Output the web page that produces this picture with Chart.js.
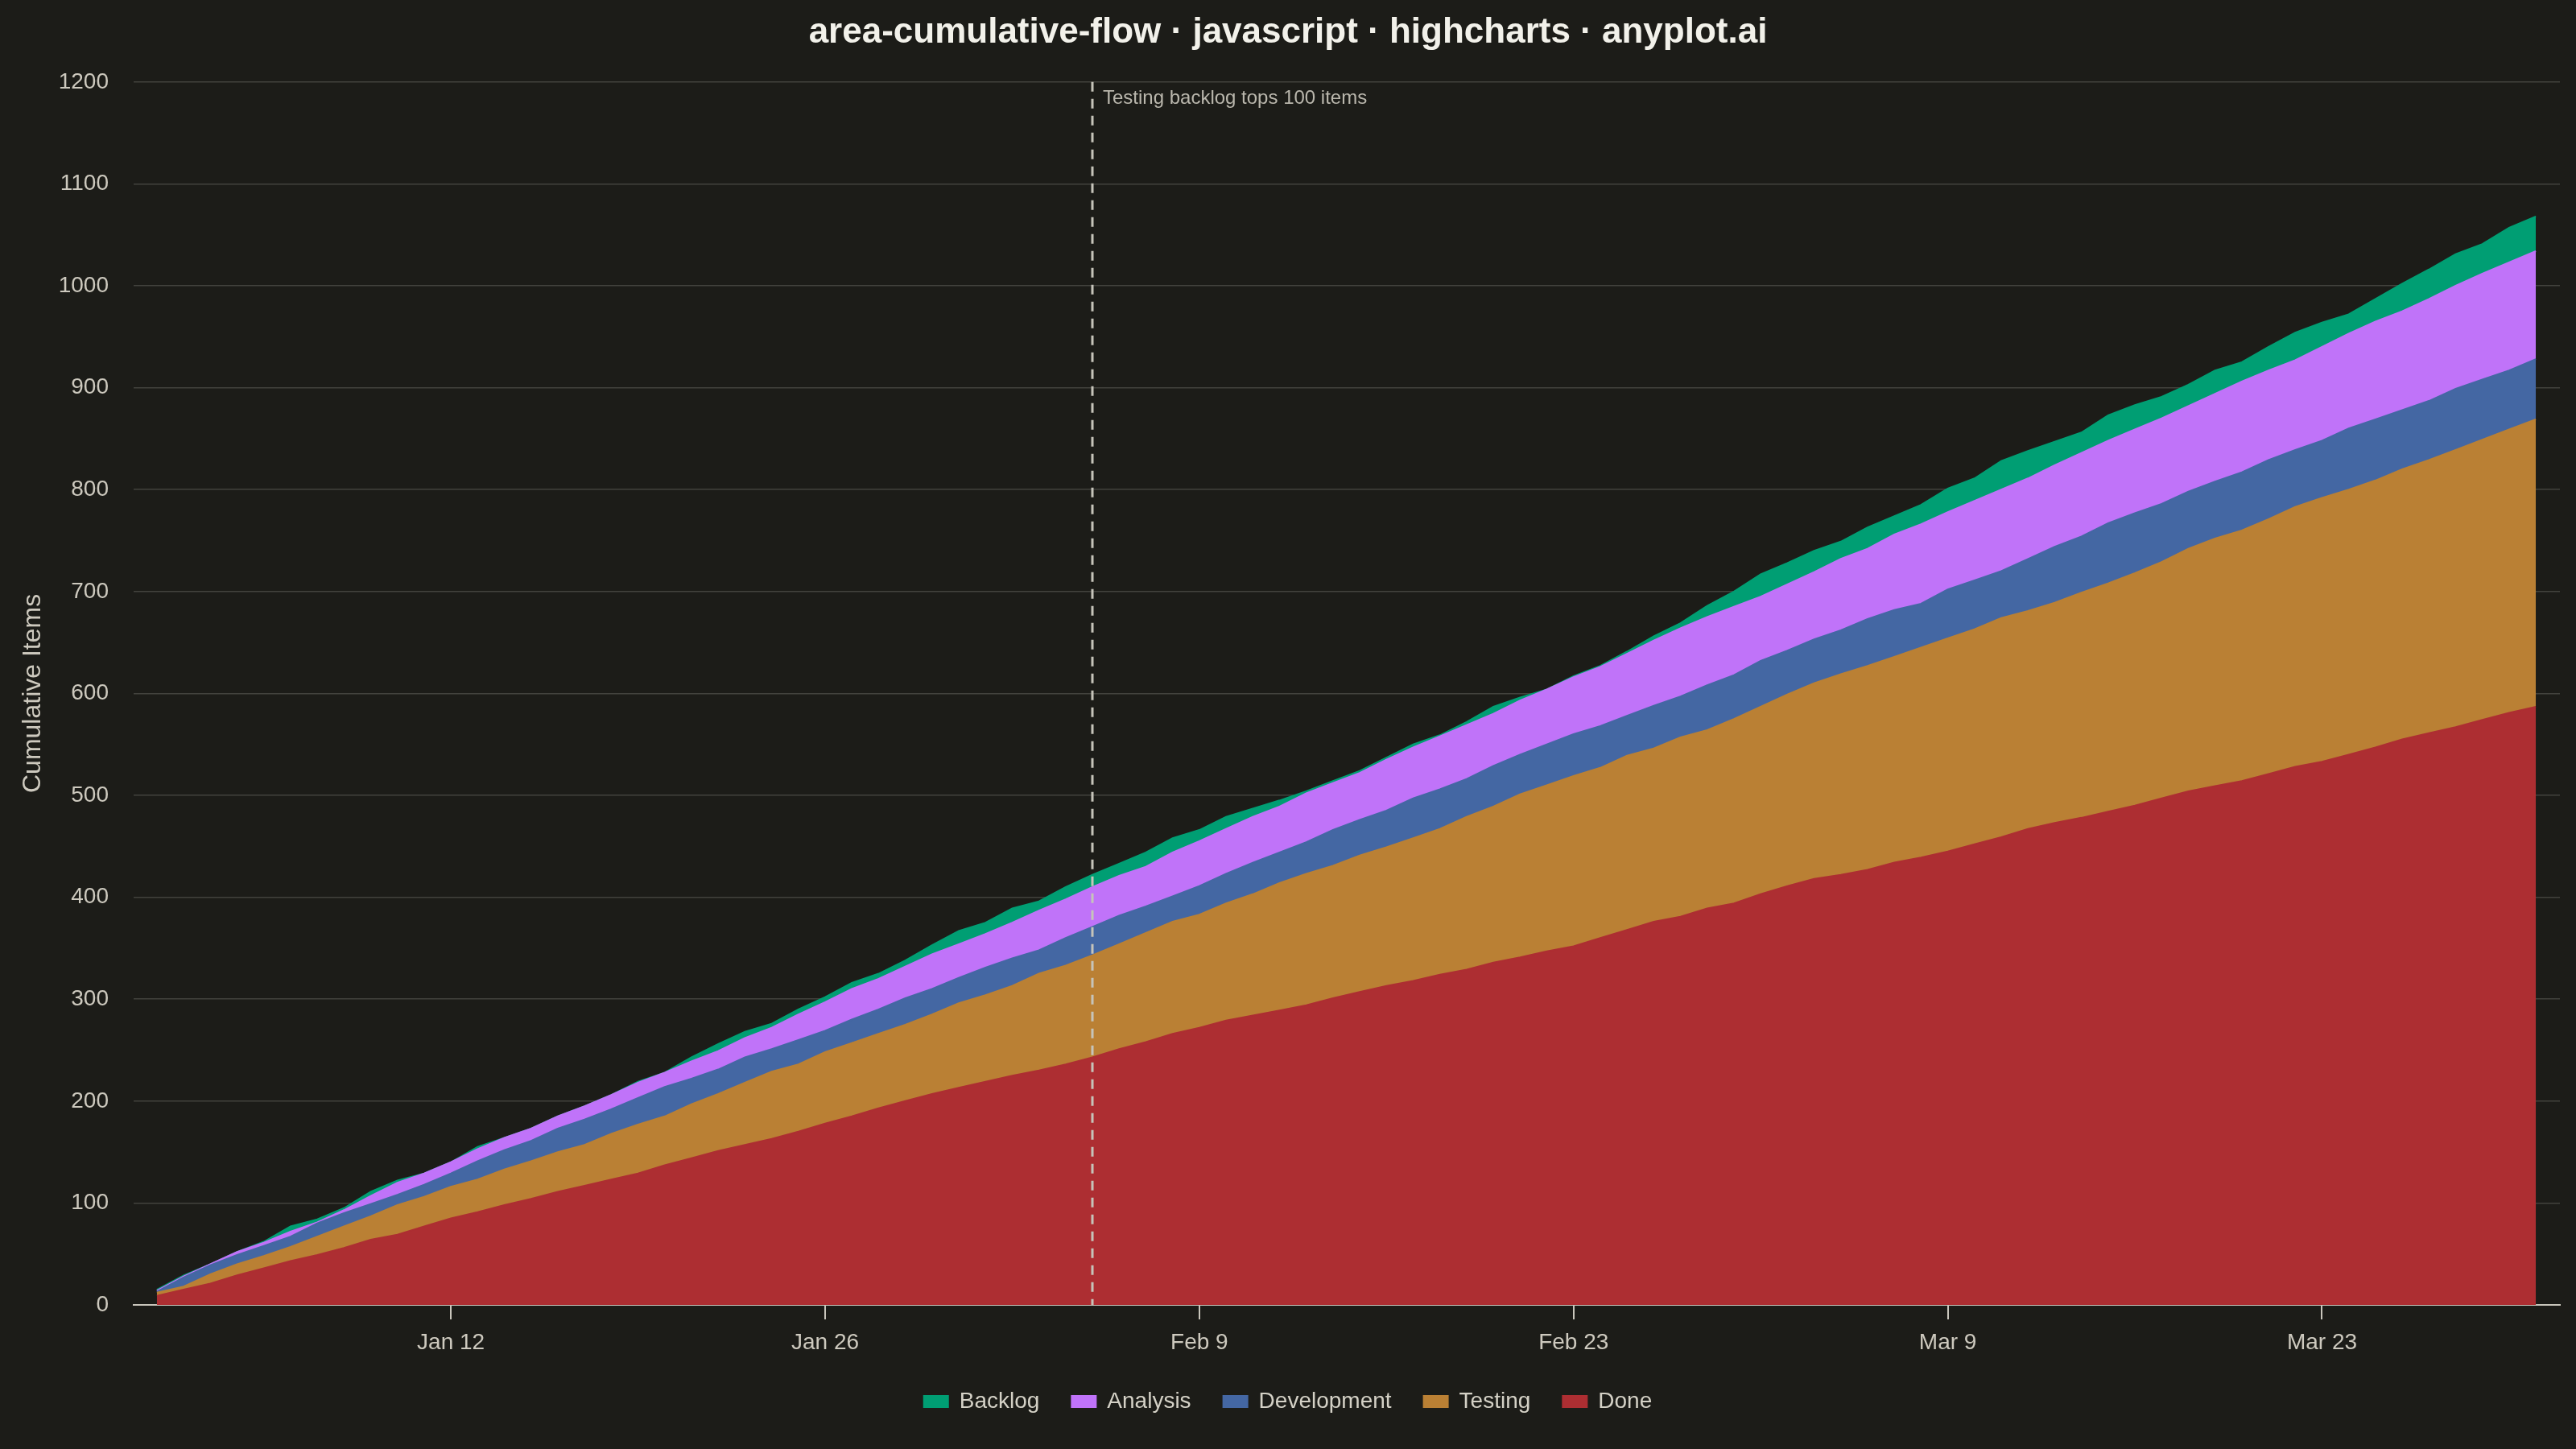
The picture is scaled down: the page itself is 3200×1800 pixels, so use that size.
<!DOCTYPE html>
<html>
<head>
<meta charset="utf-8">
<script src="https://cdn.jsdelivr.net/npm/chart.js@4.4.1/dist/chart.umd.min.js"></script>
<style>
  html, body { margin: 0; padding: 0; background: #1c1c18; }
  #wrap { width: 3200px; height: 1800px; }
  canvas { display: block; }
</style>
</head>
<body>
<div id="wrap"><canvas id="c" width="3200" height="1800" style="width:3200px;height:1800px"></canvas></div>
<script>
// ---- Data (cumulative item counts per day, day 0 = Jan 1 ... day 89 = Mar 31) ----
const statusNames = ['Done', 'Testing', 'Development', 'Analysis', 'Backlog'];
const statusColors = ['#AD2E32', '#BA8034', '#4467A3', '#C073F9', '#009E73'];

// cumulative number of items that reached each stage (top edge of each band)
const cumDone = [
  9, 15, 21, 29, 36, 43, 49, 56, 64, 69,
  77, 85, 91, 98, 104, 111, 117, 123, 129, 137,
  144, 151, 157, 163, 170, 178, 185, 193, 200, 207,
  213, 219, 225, 230, 236, 243, 251, 258, 266, 272,
  279, 284, 289, 294, 301, 307, 313, 318, 324, 329,
  336, 341, 347, 352, 360, 368, 376, 381, 389, 394,
  403, 411, 418, 422, 427, 434, 439, 445, 452, 459,
  467, 473, 478, 484, 490, 497, 504, 509, 514, 521,
  528, 533, 540, 547, 555, 561, 567, 574, 581, 587
];
const cumTesting = [
  12, 18, 30, 40, 48, 57, 67, 77, 87, 98,
  106, 116, 123, 133, 141, 150, 157, 168, 177, 185,
  197, 207, 218, 229, 236, 248, 257, 266, 275, 285,
  296, 304, 313, 325, 333, 343, 354, 365, 376, 383,
  394, 403, 414, 423, 431, 441, 449, 458, 467, 479,
  489, 501, 510, 519, 527, 539, 546, 557, 564, 575,
  587, 599, 610, 619, 627, 636, 645, 654, 663, 674,
  681, 689, 699, 708, 718, 729, 742, 752, 760, 771,
  783, 792, 800, 809, 820, 829, 839, 849, 859, 869
];
const cumDevelopment = [
  13, 27, 39, 49, 58, 67, 80, 90, 99, 108,
  118, 129, 141, 152, 161, 173, 182, 192, 203, 214,
  222, 231, 243, 251, 260, 269, 280, 290, 301, 310,
  321, 331, 340, 348, 360, 371, 382, 391, 401, 411,
  423, 434, 444, 454, 466, 476, 485, 497, 506, 516,
  529, 540, 550, 560, 568, 578, 588, 597, 608, 618,
  632, 642, 653, 662, 673, 682, 688, 702, 711, 720,
  732, 744, 754, 767, 777, 786, 798, 808, 817, 829,
  839, 848, 860, 869, 878, 887, 899, 908, 917, 928
];
const cumAnalysis = [
  14, 28, 40, 52, 61, 72, 81, 93, 107, 120,
  129, 140, 153, 164, 173, 185, 195, 206, 218, 228,
  239, 249, 262, 272, 285, 297, 310, 320, 332, 344,
  354, 364, 375, 387, 398, 410, 421, 430, 444, 455,
  467, 479, 489, 502, 512, 522, 535, 547, 558, 569,
  580, 593, 604, 616, 626, 639, 652, 664, 675, 685,
  695, 707, 719, 732, 742, 756, 766, 778, 789, 800,
  811, 824, 836, 848, 859, 870, 882, 894, 906, 917,
  927, 940, 953, 965, 975, 987, 1000, 1012, 1023, 1034
];
const cumBacklog = [
  15, 29, 40, 52, 62, 77, 84, 95, 111, 122,
  129, 140, 155, 164, 173, 185, 195, 206, 219, 228,
  243, 256, 268, 276, 290, 302, 316, 325, 338, 353,
  367, 375, 389, 396, 410, 422, 433, 444, 458, 466,
  479, 487, 495, 504, 514, 524, 537, 550, 559, 572,
  587, 596, 604, 617, 627, 641, 656, 669, 686, 700,
  717, 728, 740, 749, 763, 774, 785, 801, 811, 828,
  838, 847, 856, 873, 883, 891, 903, 917, 925, 940,
  954, 964, 972, 987, 1002, 1016, 1031, 1041, 1057, 1068
];

// x axis: day index from Jan 1
const tickDays = [11, 25, 39, 53, 67, 81];
const tickLabels = ['Jan 12', 'Jan 26', 'Feb 9', 'Feb 23', 'Mar 9', 'Mar 23'];
const yTicks = [0, 100, 200, 300, 400, 500, 600, 700, 800, 900, 1000, 1100, 1200];

const annotationDay = 35; // Feb 5
const annotationText = 'Testing backlog tops 100 items';
const titleText = 'area-cumulative-flow · javascript · highcharts · anyplot.ai';
const yTitle = 'Cumulative Items';

// ---- Chart ----
const FONT = '"Liberation Sans", Arial, Helvetica, sans-serif';
Chart.defaults.font.family = FONT;

const seriesValues = [cumDone, cumTesting, cumDevelopment, cumAnalysis, cumBacklog];
const datasets = seriesValues.map((arr, s) => ({
  label: statusNames[s],
  data: arr.map((v, i) => ({ x: i, y: v })),
  backgroundColor: statusColors[s],
  borderColor: statusColors[s],
  borderWidth: 2,
  fill: 'origin',
  pointRadius: 0,
  tension: 0
}));

const bgPlugin = {
  id: 'bg',
  beforeDraw(chart) {
    const c = chart.ctx;
    c.save();
    c.fillStyle = '#1c1c18';
    c.fillRect(0, 0, chart.width, chart.height);
    c.restore();
  }
};

const markerPlugin = {
  id: 'markerLine',
  afterDatasetsDraw(chart) {
    const { ctx, chartArea, scales } = chart;
    const x = Math.round(scales.x.getPixelForValue(annotationDay));
    ctx.save();
    ctx.strokeStyle = '#c6c4ba';
    ctx.lineWidth = 3;
    ctx.setLineDash([12, 9]);
    ctx.beginPath();
    ctx.moveTo(x, chartArea.top);
    ctx.lineTo(x, chartArea.bottom);
    ctx.stroke();
    ctx.setLineDash([]);
    ctx.fillStyle = '#bab7ad';
    ctx.font = '24px ' + FONT;
    ctx.textBaseline = 'middle';
    ctx.textAlign = 'left';
    ctx.fillText(annotationText, x + 13, chartArea.top + 21);
    ctx.restore();
  }
};

const labelColor = '#cdc9be';

new Chart(document.getElementById('c'), {
  type: 'line',
  data: { datasets },
  options: {
    responsive: false,
    devicePixelRatio: 1,
    animation: false,
    layout: { padding: { left: 20, right: 20, top: 0, bottom: 35 } },
    plugins: {
      title: {
        display: true,
        text: titleText,
        color: '#f2f1ea',
        font: { size: 44, weight: 'bold' },
        padding: { top: 14, bottom: 35 }
      },
      legend: {
        position: 'bottom',
        reverse: true,
        labels: {
          color: '#d4d1c6',
          font: { size: 28 },
          boxWidth: 30,
          boxHeight: 14,
          padding: 40
        }
      },
      tooltip: { enabled: false }
    },
    scales: {
      x: {
        type: 'linear',
        min: -0.87,
        max: 89.9,
        afterBuildTicks: axis => { axis.ticks = tickDays.map(v => ({ value: v })); },
        afterFit: scale => { scale.height = 66; },
        ticks: {
          color: labelColor,
          font: { size: 28 },
          padding: 12,
          autoSkip: false,
          maxRotation: 0,
          callback: v => tickLabels[tickDays.indexOf(v)]
        },
        grid: { drawOnChartArea: false, drawTicks: true, tickLength: 18, color: '#c9c6bc', lineWidth: 2 },
        border: { display: true, color: '#c9c6bc', width: 2 }
      },
      y: {
        min: 0,
        max: 1200,
        afterBuildTicks: axis => { axis.ticks = yTicks.map(v => ({ value: v })); },
        afterFit: scale => { scale.width = 146; },
        ticks: { color: labelColor, font: { size: 28 }, padding: 31, callback: v => String(v) },
        grid: { color: '#42423d', lineWidth: 1.5, drawTicks: false },
        border: { display: false },
        title: {
          display: true,
          text: yTitle,
          color: labelColor,
          font: { size: 32 },
          padding: { top: 2, bottom: 12 }
        }
      }
    }
  },
  plugins: [bgPlugin, markerPlugin]
});
</script>
</body>
</html>
